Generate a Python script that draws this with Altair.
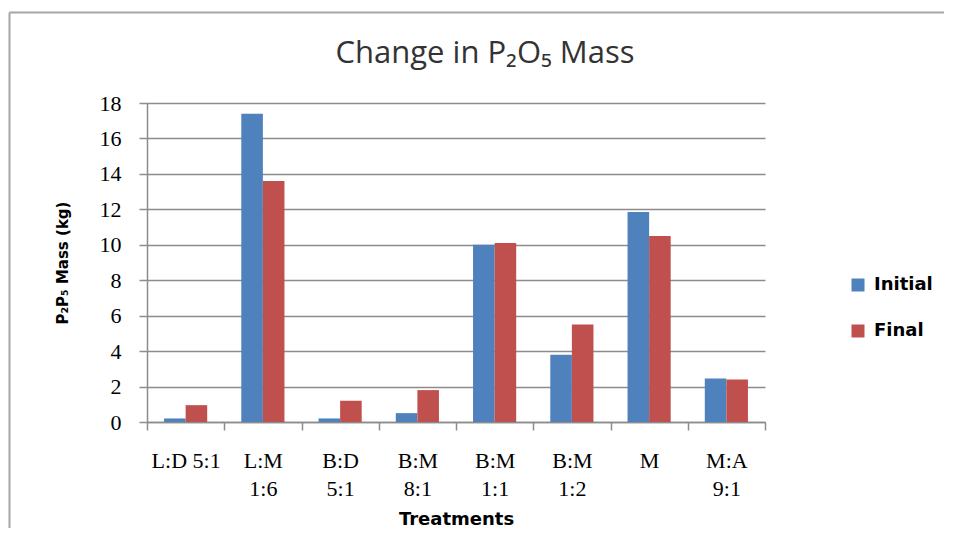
import altair as alt
import pandas as pd

categories = ["L:D 5:1", "L:M\n1:6", "B:D\n5:1", "B:M\n8:1", "B:M\n1:1", "B:M\n1:2", "M", "M:A\n9:1"]
initial = [0.2, 17.4, 0.2, 0.5, 10.0, 3.8, 11.85, 2.45]
final = [0.95, 13.6, 1.2, 1.8, 10.1, 5.5, 10.5, 2.4]
series = ["Initial", "Final"]
colors = ["#4F81BD", "#C0504D"]
y_ticks = [0, 2, 4, 6, 8, 10, 12, 14, 16, 18]
chart_title = "Change in P\u2082O\u2085 Mass"
y_title = "P\u2082P\u2085 Mass (kg)"
x_title = "Treatments"

rows = []
for c, a, b in zip(categories, initial, final):
    rows.append({"Treatment": c, "Series": "Initial", "Mass": a})
    rows.append({"Treatment": c, "Series": "Final", "Mass": b})
df = pd.DataFrame(rows)

GRID = "#8c8c8c"
BOLD_FONT = "DejaVu Sans"

bars = alt.Chart(df).mark_bar().encode(
    x=alt.X(
        "Treatment:N",
        sort=categories,
        scale=alt.Scale(paddingInner=0, paddingOuter=0),
        axis=alt.Axis(
            title=x_title,
            labelAngle=0,
            labelExpr="split(datum.label, '\\n')",
            labelFont="Liberation Serif",
            labelFontSize=22,
            labelColor="black",
            labelLineHeight=28,
            labelPadding=20,
            tickBand="extent",
            tickSize=8,
            tickColor=GRID,
            tickWidth=1.5,
            domainColor=GRID,
            domainWidth=1.5,
            titleFont=BOLD_FONT,
            titleFontSize=18,
            titleFontWeight="bold",
            titleColor="black",
            titlePadding=11,
        ),
    ),
    xOffset=alt.XOffset(
        "Series:N",
        sort=series,
        scale=alt.Scale(paddingInner=0, paddingOuter=0.79),
    ),
    y=alt.Y(
        "Mass:Q",
        scale=alt.Scale(domain=[0, 18], nice=False),
        axis=alt.Axis(
            title=y_title,
            values=y_ticks,
            grid=True,
            gridColor=GRID,
            gridWidth=1.5,
            domainColor=GRID,
            domainWidth=1.5,
            tickColor=GRID,
            tickWidth=1.5,
            tickSize=8,
            labelPadding=18,
            labelFont="Liberation Serif",
            labelFontSize=22,
            labelColor="black",
            titleFont=BOLD_FONT,
            titleFontSize=15,
            titleFontWeight="bold",
            titleColor="black",
            titlePadding=29,
        ),
    ),
    color=alt.Color(
        "Series:N",
        sort=series,
        scale=alt.Scale(domain=series, range=colors),
        legend=alt.Legend(
            title=None,
            orient="none",
            legendX=702,
            legendY=173,
            padding=0,
            symbolType="square",
            symbolSize=169,
            symbolStrokeWidth=0,
            labelFont=BOLD_FONT,
            labelFontSize=18,
            labelFontWeight="bold",
            labelColor="black",
            labelOffset=7,
            rowPadding=28,
        ),
    ),
)

one = pd.DataFrame({"k": [0]})

title_mark = alt.Chart(one).mark_text(
    text=chart_title, font="Open Sans", fontSize=31, color="#333333", align="center", baseline="middle"
).encode(x=alt.value(338), y=alt.value(-49))

frame_left = alt.Chart(one).mark_rule(color="#a6a6a6", strokeWidth=2).encode(
    x=alt.value(-137.5), y=alt.value(-90.5), y2=alt.value(425)
)
frame_top = alt.Chart(one).mark_rule(color="#a6a6a6", strokeWidth=2).encode(
    x=alt.value(-137.5), x2=alt.value(797), y=alt.value(-90.5)
)

chart = alt.layer(frame_left, frame_top, bars, title_mark).properties(
    width=618,
    height=319,
    padding={"left": 0, "top": 3, "right": 0, "bottom": 0},
    background="white",
).configure_view(strokeWidth=0)

chart.save("out.html", embed_options={"renderer": "svg", "actions": False})
